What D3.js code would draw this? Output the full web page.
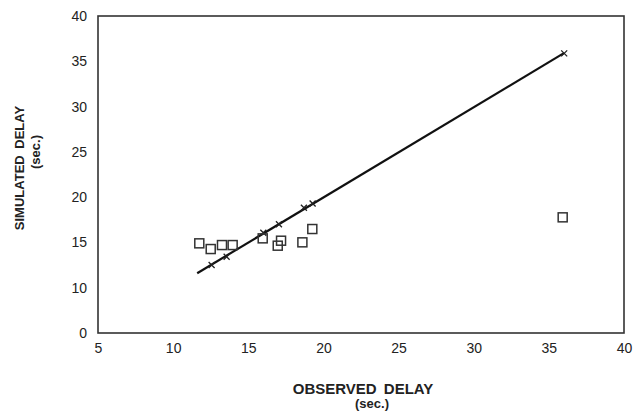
<!DOCTYPE html>
<html>
<head>
<meta charset="utf-8">
<script src="https://cdn.jsdelivr.net/npm/d3@7"></script>
<style>
  body { margin: 0; background: #fff; }
  text { font-family: "Liberation Sans", Arial, sans-serif; fill: #222; }
</style>
</head>
<body>
<div id="chart"></div>
<script>
// observed vs simulated delay (sec.)
const xTicks = [5, 10, 15, 20, 25, 30, 35, 40];
const yTicks = [5, 10, 15, 20, 25, 30, 35, 40];
const yTickLabels = ["0", "10", "15", "20", "25", "30", "35", "40"];

// squares
const squareObserved = [11.74, 12.5, 13.25, 13.96, 15.96, 16.96, 17.18, 18.6, 19.26, 35.92];
const squareSimulated = [14.9, 14.27, 14.71, 14.71, 15.45, 14.64, 15.19, 15.01, 16.48, 17.77];

// crosses on the fitted line
const crossObserved = [12.56, 13.56, 16.0, 17.04, 18.7, 19.28, 36.02];
const crossSimulated = [12.5, 13.42, 16.07, 17.0, 18.83, 19.3, 35.87];

// fitted line end points
const lineObserved = [11.6, 36.0];
const lineSimulated = [11.6, 35.9];

const width = 634, height = 412;
const margin = { top: 16, right: 10, bottom: 79, left: 98 };

const svg = d3.select("#chart")
  .append("svg")
  .attr("width", width)
  .attr("height", height);

const x = d3.scaleLinear().domain([5, 40]).range([margin.left, width - margin.right]);
const y = d3.scaleLinear().domain([5, 40]).range([height - margin.bottom, margin.top]);

// frame
svg.append("rect")
  .attr("x", x(5))
  .attr("y", y(40))
  .attr("width", x(40) - x(5))
  .attr("height", y(5) - y(40))
  .attr("fill", "none")
  .attr("stroke", "#333")
  .attr("stroke-width", 1.6);

// axes, labels only
const xAxis = svg.append("g")
  .attr("transform", `translate(0,${y(5)})`)
  .call(d3.axisBottom(x).tickValues(xTicks).tickSize(0).tickPadding(10).tickFormat(d3.format("d")));
xAxis.select(".domain").remove();
xAxis.selectAll("text").style("font-size", "14px");

const yAxis = svg.append("g")
  .attr("transform", `translate(${x(5)},0)`)
  .call(d3.axisLeft(y).tickValues(yTicks).tickSize(0).tickPadding(11)
    .tickFormat((d, i) => yTickLabels[i]));
yAxis.select(".domain").remove();
yAxis.selectAll("text").style("font-size", "14px");

// line
svg.append("line")
  .attr("x1", x(lineObserved[0]))
  .attr("y1", y(lineSimulated[0]))
  .attr("x2", x(lineObserved[1]))
  .attr("y2", y(lineSimulated[1]))
  .attr("stroke", "#111")
  .attr("stroke-width", 2.2);

// crosses
const cs = 3;
svg.append("g")
  .selectAll("path")
  .data(d3.zip(crossObserved, crossSimulated))
  .join("path")
  .attr("d", d => {
    const cx = x(d[0]), cy = y(d[1]);
    return `M${cx - cs},${cy - cs}L${cx + cs},${cy + cs}M${cx - cs},${cy + cs}L${cx + cs},${cy - cs}`;
  })
  .attr("stroke", "#222")
  .attr("stroke-width", 1.3);

// squares
const sq = 9;
svg.append("g")
  .selectAll("rect")
  .data(d3.zip(squareObserved, squareSimulated))
  .join("rect")
  .attr("x", d => x(d[0]) - sq / 2)
  .attr("y", d => y(d[1]) - sq / 2)
  .attr("width", sq)
  .attr("height", sq)
  .attr("fill", "none")
  .attr("stroke", "#333")
  .attr("stroke-width", 1.5);

// axis titles
svg.append("text")
  .attr("x", 363)
  .attr("y", 394)
  .attr("text-anchor", "middle")
  .style("font-size", "15px")
  .style("font-weight", "bold")
  .style("word-spacing", "3px")
  .text("OBSERVED DELAY");
svg.append("text")
  .attr("x", 372)
  .attr("y", 408)
  .attr("text-anchor", "middle")
  .style("font-size", "13px")
  .style("font-weight", "bold")
  .text("(sec.)");

svg.append("text")
  .attr("transform", "translate(24,168) rotate(-90)")
  .attr("text-anchor", "middle")
  .style("font-size", "13px")
  .style("font-weight", "bold")
  .style("word-spacing", "3px")
  .text("SIMULATED DELAY");
svg.append("text")
  .attr("transform", "translate(40,152) rotate(-90)")
  .attr("text-anchor", "middle")
  .style("font-size", "13px")
  .style("font-weight", "bold")
  .text("(sec.)");
</script>
</body>
</html>
